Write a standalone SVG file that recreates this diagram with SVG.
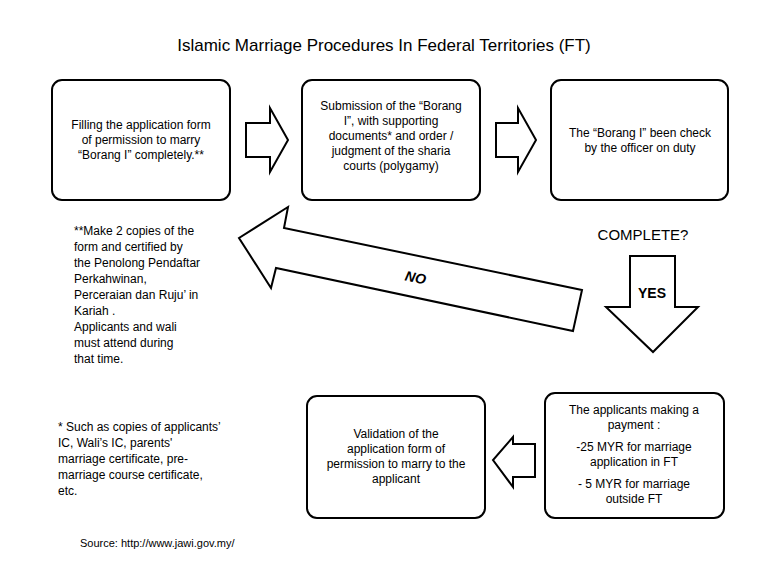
<svg xmlns="http://www.w3.org/2000/svg" width="768" height="576" viewBox="0 0 768 576">
<style>
.b{fill:#fff;stroke:#000;stroke-width:2}
.a{fill:#fff;stroke:#000;stroke-width:2;stroke-linejoin:miter}
text{font-family:"Liberation Sans",Arial,sans-serif;font-size:12px;fill:#000}
.c{text-anchor:middle}
</style>
<rect width="768" height="576" fill="#fff"/>
<text x="384" y="51" class="c" style="font-size:17px">Islamic Marriage Procedures In Federal Territories (FT)</text>
<g id="box1"><rect class="b" x="52" y="80" width="178" height="120" rx="10"/>
<text class="c" x="141" y="129">Filling the application form</text><text class="c" x="141" y="144">of permission to marry</text><text class="c" x="141" y="159">“Borang I” completely.**</text></g>
<g id="box2"><rect class="b" x="302" y="80" width="178" height="120" rx="10"/>
<text class="c" x="391" y="110">Submission of the “Borang</text><text class="c" x="391" y="125">I”, with supporting</text><text class="c" x="391" y="140">documents* and order /</text><text class="c" x="391" y="155">judgment of the sharia</text><text class="c" x="391" y="170">courts (polygamy)</text></g>
<g id="box3"><rect class="b" x="551" y="80" width="177" height="120" rx="10"/>
<text class="c" x="640" y="137">The “Borang I” been check</text><text class="c" x="640" y="152">by the officer on duty</text></g>
<g id="box4"><rect class="b" x="307" y="396" width="178" height="122" rx="10"/>
<text class="c" x="396" y="438">Validation of the</text><text class="c" x="396" y="453">application form of</text><text class="c" x="396" y="468">permission to marry to the</text><text class="c" x="396" y="483">applicant</text></g>
<g id="box5"><rect class="b" x="545" y="393" width="179" height="125" rx="10"/>
<text class="c" x="634" y="414">The applicants making a</text><text class="c" x="634" y="429">payment :</text><text class="c" x="634" y="451">-25 MYR for marriage</text><text class="c" x="634" y="466">application in FT</text><text class="c" x="634" y="488">- 5 MYR for marriage</text><text class="c" x="634" y="503">outside FT</text></g>
<g id="connectors">
<polygon class="a" points="246,123 270,123 270,108 288,140 270,172 270,157 246,157"/>
<polygon class="a" points="496,123 518,123 518,108 536,140 518,172 518,157 496,157"/>
<polygon class="a" points="535,444 513,444 513,437 493,460 513,487 513,477 535,477"/>
<polygon class="a" points="582,290 284,228 288,207 239,238 271,288 276,268 573,331"/>
<polygon class="a" points="630,256 675,256 675,307 698,307 653,352 606,307 630,307"/>
<text x="405" y="283" style="font-size:14px;font-weight:bold;font-style:italic" transform="rotate(12 418 278)">NO</text>
<text x="652" y="298" class="c" style="font-size:14px;font-weight:bold">YES</text>
</g>
<text x="643" y="240" class="c" style="font-size:15px">COMPLETE?</text>
<g id="notes">
<text x="74" y="235">**Make 2 copies of the</text><text x="74" y="251">form and certified by</text><text x="74" y="267">the Penolong Pendaftar</text><text x="74" y="283">Perkahwinan,</text><text x="74" y="299">Perceraian dan Ruju’ in</text><text x="74" y="315">Kariah .</text><text x="74" y="331">Applicants and wali</text><text x="74" y="347">must attend  during</text><text x="74" y="363">that time.</text>
<text x="58" y="431">* Such as copies of applicants’</text><text x="58" y="447">IC, Wali’s IC, parents'</text><text x="58" y="463">marriage certificate, pre-</text><text x="58" y="479">marriage course certificate,</text><text x="58" y="495">etc.</text>
<text x="80" y="547" style="font-size:11px">Source: http://www.jawi.gov.my/</text>
</g>
</svg>
